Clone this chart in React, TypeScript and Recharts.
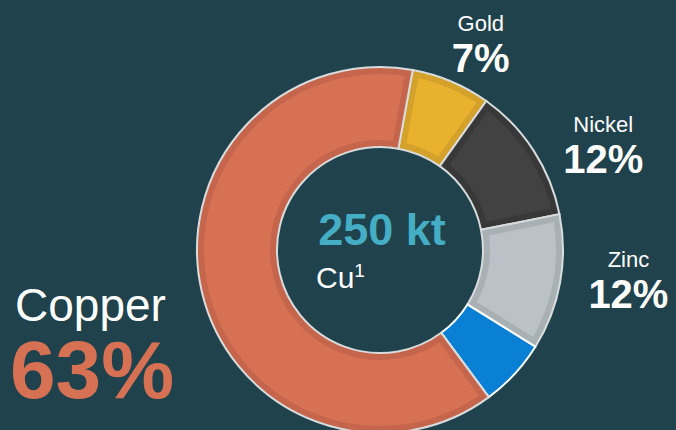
import { PieChart, Pie, Cell, Sector } from "recharts";

// share of copper-equivalent production, clockwise from Gold
const metals = ["Gold", "Nickel", "Zinc", "Other", "Copper"];
const shares = [7, 12, 12, 6, 63];
const labelled = ["Gold", "Nickel", "Zinc"];

const data = metals.map((name, i) => ({ name, value: shares[i] }));

const BG = "#1f424c";
const FILL = ["#e8b22f", "#424242", "#bac2c7", "#0a80d5", "#d77154"];
const EDGE = ["#d4a12a", "#383838", "#a8b0b3", "#0a80d5", "#c4654c"];
const OUTLINE = ["#d9dcdd", "#d9dcdd", "#d9dcdd", "#ffffff", "#d9dcdd"];
// where each outside label sits relative to its slice mid point
const LABEL_NUDGE: Record<string, [number, number]> = {
  Gold: [14, 6],
  Nickel: [36, 23],
  Zinc: [29, -3],
};

const FONT = "'Liberation Sans', Arial, sans-serif";
const RAD = Math.PI / 180;

function SliceDecor(props: any) {
  const { cx, cy, innerRadius, outerRadius, startAngle, endAngle, midAngle, index, name } = props;
  const geo = { cx, cy, innerRadius, outerRadius, startAngle, endAngle };
  const id = `slice-clip-${index}`;
  let text = null;
  if (labelled.includes(name)) {
    const [dx, dy] = LABEL_NUDGE[name];
    const r = outerRadius + 40;
    const x = cx + r * Math.cos(-midAngle * RAD) + dx;
    const y = cy + r * Math.sin(-midAngle * RAD) + dy;
    text = (
      <g fontFamily={FONT} fill="#ffffff" textAnchor="middle">
        <text x={x} y={y - 20} fontSize={22}>
          {name}
        </text>
        <text x={x} y={y + 21} fontSize={40} fontWeight="bold">
          {`${props.value}%`}
        </text>
      </g>
    );
  }
  return (
    <g>
      <defs>
        <clipPath id={id}>
          <Sector {...geo} />
        </clipPath>
      </defs>
      {name !== "Other" && (
        <g clipPath={`url(#${id})`}>
          <Sector {...geo} fill="none" stroke={EDGE[index]} strokeWidth={14} />
        </g>
      )}
      <Sector {...geo} fill="none" stroke={OUTLINE[index]} strokeWidth={2} />
      {text}
    </g>
  );
}

export default function App() {
  return (
    <div style={{ position: "fixed", left: 0, top: 0, width: 676, height: 430, background: BG, overflow: "hidden" }}>
      <PieChart width={676} height={430} margin={{ top: 0, right: 0, bottom: 0, left: 0 }}>
        <Pie
          data={data}
          dataKey="value"
          nameKey="name"
          cx={380}
          cy={250}
          innerRadius={103}
          outerRadius={183}
          startAngle={79.7}
          endAngle={-280.3}
          stroke="none"
          label={SliceDecor}
          labelLine={false}
          isAnimationActive={false}
        >
          {data.map((d, i) => (
            <Cell key={d.name} fill={FILL[i]} />
          ))}
        </Pie>
      </PieChart>
      <svg width={676} height={430} style={{ position: "absolute", left: 0, top: 0, pointerEvents: "none" }}>
        <g fontFamily={FONT}>
          <text x={382} y={245} textAnchor="middle" fontSize={45} fontWeight="bold" fill="#45adc4">
            250 kt
          </text>
          <text x={316} y={288} fontSize={30} fill="#ffffff">
            Cu<tspan dy={-11} fontSize={19}>1</tspan>
          </text>
          <text x={15} y={321} fontSize={46} fill="#ffffff">
            Copper
          </text>
          <text x={10} y={398} fontSize={82} fontWeight="bold" fill="#d77154">
            63%
          </text>
        </g>
      </svg>
    </div>
  );
}
